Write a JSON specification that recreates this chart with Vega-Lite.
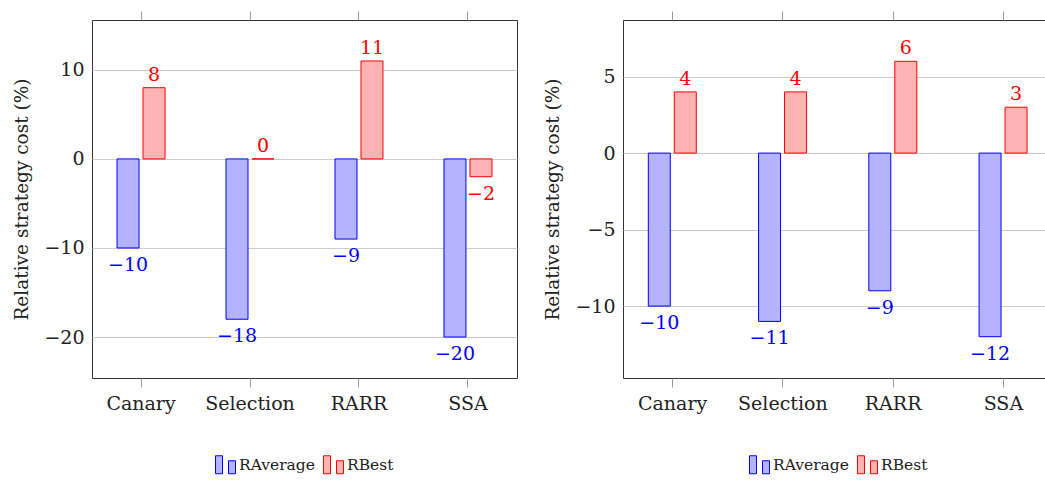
{
  "$schema": "https://vega.github.io/schema/vega-lite/v6.json",
  "padding": {"left": 12, "top": 10, "right": 0, "bottom": 0},
  "config": {
    "font": "DejaVu Serif",
    "view": {"stroke": "#333333", "strokeWidth": 1},
    "axis": {
      "labelFont": "DejaVu Serif", "labelFontSize": 19, "labelColor": "#222222",
      "titleFont": "DejaVu Serif", "titleFontSize": 18.5, "titleFontWeight": "normal", "titleColor": "#222222",
      "domain": false
    },
    "legend": {
      "orient": "bottom", "direction": "horizontal", "title": null,
      "labelFont": "DejaVu Serif", "labelFontSize": 15.5, "labelColor": "#222222",
      "symbolType": "M-1,-0.9H-0.3V0.9H-1Z M0.3,-0.4H1V0.9H0.3Z",
      "symbolSize": 400, "symbolStrokeWidth": 1, "columnPadding": 6, "labelOffset": 3, "offset": 41,
      "layout": {"bottom": {"anchor": "middle"}}
    },
    "concat": {"spacing": 25}
  },
  "datasets": {
    "left": [
      {"method": "Canary", "series": "RAverage", "value": -10},
      {"method": "Canary", "series": "RBest", "value": 8},
      {"method": "Selection", "series": "RAverage", "value": -18},
      {"method": "Selection", "series": "RBest", "value": 0},
      {"method": "RARR", "series": "RAverage", "value": -9},
      {"method": "RARR", "series": "RBest", "value": 11},
      {"method": "SSA", "series": "RAverage", "value": -20},
      {"method": "SSA", "series": "RBest", "value": -2}
    ],
    "right": [
      {"method": "Canary", "series": "RAverage", "value": -10},
      {"method": "Canary", "series": "RBest", "value": 4},
      {"method": "Selection", "series": "RAverage", "value": -11},
      {"method": "Selection", "series": "RBest", "value": 4},
      {"method": "RARR", "series": "RAverage", "value": -9},
      {"method": "RARR", "series": "RBest", "value": 6},
      {"method": "SSA", "series": "RAverage", "value": -12},
      {"method": "SSA", "series": "RBest", "value": 3}
    ]
  },
  "hconcat": [
    {
      "width": 425, "height": 358,
      "data": {"name": "left"},
      "encoding": {
        "xOffset": {"field": "series", "type": "nominal", "sort": ["RAverage", "RBest"], "scale": {"paddingInner": 0.154, "paddingOuter": 0.125}},
        "y": {"field": "value", "type": "quantitative",
          "scale": {"domain": [-24.6, 15.6], "nice": false, "zero": false},
          "axis": {"title": "Relative strategy cost (%)", "values": [-20, -10, 0, 10], "ticks": false, "labelPadding": 8, "gridColor": "#cccccc", "titlePadding": 12}}
      },
      "resolve": {"axis": {"x": "independent"}},
      "layer": [
        {
          "mark": {"type": "bar", "strokeWidth": 1},
          "encoding": {
            "x": {"field": "method", "type": "nominal", "sort": ["Canary", "Selection", "RARR", "SSA"],
              "scale": {"paddingInner": 0.5, "paddingOuter": 0.2},
              "axis": {"title": null, "labelAngle": 0, "tickColor": "#999999", "tickSize": 9, "labelPadding": 7, "grid": false}},
            "fill": {"field": "series", "type": "nominal", "scale": {"domain": ["RAverage", "RBest"], "range": ["#b3b3ff", "#ffb3b3"]}},
            "stroke": {"field": "series", "type": "nominal", "scale": {"domain": ["RAverage", "RBest"], "range": ["#0000ff", "#ff0000"]}}
          }
        },
        {
          "transform": [{"filter": "datum.value >= 0"}],
          "mark": {"type": "text", "dy": -7, "fontSize": 19, "baseline": "alphabetic"},
          "encoding": {
            "x": {"field": "method", "type": "nominal", "sort": ["Canary", "Selection", "RARR", "SSA"],
              "axis": {"orient": "top", "labels": false, "title": null, "tickColor": "#999999", "tickSize": 9, "grid": false}},
            "text": {"field": "value", "type": "quantitative"},
            "color": {"condition": {"test": "datum.series == 'RAverage'", "value": "#0000ff"}, "value": "#ff0000"}
          }
        },
        {
          "transform": [{"filter": "datum.value < 0"}],
          "mark": {"type": "text", "dy": 23, "fontSize": 19, "baseline": "alphabetic"},
          "encoding": {
            "x": {"field": "method", "type": "nominal", "sort": ["Canary", "Selection", "RARR", "SSA"], "axis": null},
            "text": {"field": "value", "type": "quantitative"},
            "color": {"condition": {"test": "datum.series == 'RAverage'", "value": "#0000ff"}, "value": "#ff0000"}
          }
        }
      ]
    },
    {
      "width": 430, "height": 358,
      "data": {"name": "right"},
      "encoding": {
        "xOffset": {"field": "series", "type": "nominal", "sort": ["RAverage", "RBest"], "scale": {"paddingInner": 0.154, "paddingOuter": 0.125}},
        "y": {"field": "value", "type": "quantitative",
          "scale": {"domain": [-14.7, 8.7], "nice": false, "zero": false},
          "axis": {"title": "Relative strategy cost (%)", "values": [-10, -5, 0, 5], "ticks": false, "labelPadding": 8, "gridColor": "#cccccc", "titlePadding": 12}}
      },
      "resolve": {"axis": {"x": "independent"}},
      "layer": [
        {
          "mark": {"type": "bar", "strokeWidth": 1},
          "encoding": {
            "x": {"field": "method", "type": "nominal", "sort": ["Canary", "Selection", "RARR", "SSA"],
              "scale": {"paddingInner": 0.5, "paddingOuter": 0.2},
              "axis": {"title": null, "labelAngle": 0, "tickColor": "#999999", "tickSize": 9, "labelPadding": 7, "grid": false}},
            "fill": {"field": "series", "type": "nominal", "scale": {"domain": ["RAverage", "RBest"], "range": ["#b3b3ff", "#ffb3b3"]}},
            "stroke": {"field": "series", "type": "nominal", "scale": {"domain": ["RAverage", "RBest"], "range": ["#0000ff", "#ff0000"]}}
          }
        },
        {
          "transform": [{"filter": "datum.value >= 0"}],
          "mark": {"type": "text", "dy": -7, "fontSize": 19, "baseline": "alphabetic"},
          "encoding": {
            "x": {"field": "method", "type": "nominal", "sort": ["Canary", "Selection", "RARR", "SSA"],
              "axis": {"orient": "top", "labels": false, "title": null, "tickColor": "#999999", "tickSize": 9, "grid": false}},
            "text": {"field": "value", "type": "quantitative"},
            "color": {"condition": {"test": "datum.series == 'RAverage'", "value": "#0000ff"}, "value": "#ff0000"}
          }
        },
        {
          "transform": [{"filter": "datum.value < 0"}],
          "mark": {"type": "text", "dy": 23, "fontSize": 19, "baseline": "alphabetic"},
          "encoding": {
            "x": {"field": "method", "type": "nominal", "sort": ["Canary", "Selection", "RARR", "SSA"], "axis": null},
            "text": {"field": "value", "type": "quantitative"},
            "color": {"condition": {"test": "datum.series == 'RAverage'", "value": "#0000ff"}, "value": "#ff0000"}
          }
        }
      ]
    }
  ],
  "resolve": {"scale": {"fill": "independent", "stroke": "independent"}}
}
